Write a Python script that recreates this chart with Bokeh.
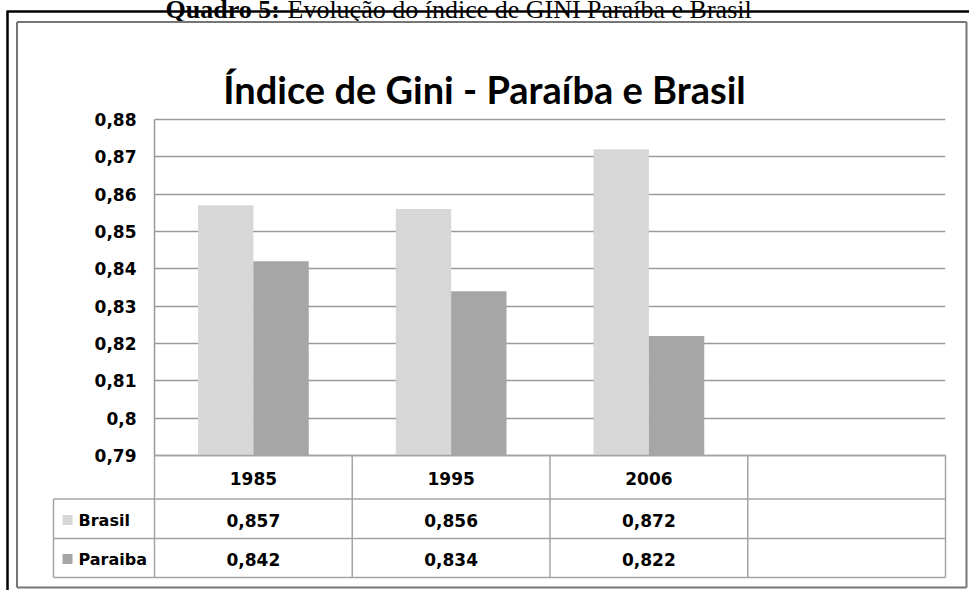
from bokeh.plotting import figure
from bokeh.models import Range1d, FixedTicker, ColumnDataSource
from bokeh.transform import dodge
from bokeh.core.properties import value
from bokeh.embed import file_html
from bokeh.resources import INLINE

# ---------------- data ----------------
years = ["1985", "1995", "2006"]
brasil = [0.857, 0.856, 0.872]
paraiba = [0.842, 0.834, 0.822]
series_names = ["Brasil", "Paraiba"]
series_colors = ["#d7d7d7", "#a6a6a6"]
y_ticks = [0.79, 0.80, 0.81, 0.82, 0.83, 0.84, 0.85, 0.86, 0.87, 0.88]
y_tick_labels = ["0,79", "0,8", "0,81", "0,82", "0,83", "0,84", "0,85", "0,86", "0,87", "0,88"]
title_text = "Índice de Gini - Paraíba e Brasil"
caption_bold = "Quadro 5:"
caption_rest = "Evolução do índice de GINI Paraíba e Brasil"

# ---------------- layout (page pixels) ----------------
W, H = 969, 590
PAGE = 0
PLOT_L, PLOT_R = 154, 945
PLOT_T, PLOT_B = 119, 455
FRAME_T, FRAME_B = 115, 577
ROW_Y = [455, 498.5, 538, 577]
ROW_TXT = [478, 519.5, 558.5]
LEG_L = 53
GRID_C = "#9a9a9a"
TBL_C = "#a4a4a4"

n_cols = len(years) + 1
y_min, y_max = y_ticks[0], y_ticks[-1]


def page_to_val(yp):
    return y_min + (PLOT_B - yp) / (PLOT_B - PLOT_T) * (y_max - y_min)


p = figure(width=W, height=H, output_backend="svg", toolbar_location=None,
           x_range=Range1d(0, n_cols),
           y_range=Range1d(page_to_val(FRAME_B), page_to_val(FRAME_T)),
           x_axis_type=None,
           min_border_left=PLOT_L - PAGE, min_border_right=W - (PLOT_R - PAGE),
           min_border_top=FRAME_T - PAGE, min_border_bottom=H - (FRAME_B - PAGE))
p.extra_x_ranges = {"px": Range1d(PLOT_L, PLOT_R)}
p.extra_y_ranges = {"py": Range1d(FRAME_B, FRAME_T)}
p.outline_line_color = None
p.background_fill_color = "white"
p.border_fill_color = "white"

# y axis
ax = p.yaxis[0]
ax.ticker = FixedTicker(ticks=y_ticks)
ax.major_label_overrides = dict(zip(y_ticks, y_tick_labels))
ax.bounds = (y_min, y_max)
ax.axis_line_color = GRID_C
ax.axis_line_width = 1.5
ax.major_tick_line_color = None
ax.minor_tick_line_color = None
ax.major_tick_out = 0
ax.major_tick_in = 0
ax.major_label_standoff = 18
ax.major_label_text_font = "DejaVu Sans"
ax.major_label_text_font_style = "bold"
ax.major_label_text_font_size = "17px"
ax.major_label_text_color = "black"

g = p.ygrid[0]
g.ticker = FixedTicker(ticks=y_ticks)
g.bounds = (y_min, y_max)
g.grid_line_color = GRID_C
g.grid_line_width = 1.6

# ---------------- bars ----------------
src = ColumnDataSource(dict(
    xc=[i + 0.5 for i in range(len(years))],
    year=years,
    brasil=brasil,
    paraiba=paraiba,
    b_lbl=[f"{v:.3f}".replace(".", ",") for v in brasil],
    p_lbl=[f"{v:.3f}".replace(".", ",") for v in paraiba],
))
BW = 0.28
p.vbar(x=dodge("xc", -BW / 2), top="brasil", bottom=y_min, width=BW,
       fill_color=series_colors[0], line_color=None, source=src)
p.vbar(x=dodge("xc", BW / 2), top="paraiba", bottom=y_min, width=BW,
       fill_color=series_colors[1], line_color=None, source=src)

# ---------------- data table ----------------
p.segment(x0=[PLOT_L, LEG_L, LEG_L, LEG_L], x1=[PLOT_R] * 4, y0=ROW_Y, y1=ROW_Y,
          x_range_name="px", y_range_name="py", line_color=TBL_C, line_width=1.5,
          level="overlay")
p.segment(x0=[LEG_L, PLOT_L], x1=[LEG_L, PLOT_L], y0=[ROW_Y[1], ROW_Y[0]], y1=[ROW_Y[3]] * 2,
          x_range_name="px", y_range_name="py", line_color=TBL_C, line_width=1.5,
          level="overlay")
bounds_x = list(range(1, n_cols + 1))
p.segment(x0=bounds_x, x1=bounds_x, y0=ROW_Y[0], y1=ROW_Y[3], y_range_name="py",
          line_color=TBL_C, line_width=1.5, level="overlay")

txt_kw = dict(y_range_name="py", text_align="center", text_baseline="middle",
              text_font=value("DejaVu Sans"), text_font_style="bold",
              text_font_size="17px", text_color="black", source=src, level="overlay")
p.text(x="xc", y=ROW_TXT[0], text="year", **txt_kw)
p.text(x="xc", y=ROW_TXT[1], text="b_lbl", **txt_kw)
p.text(x="xc", y=ROW_TXT[2], text="p_lbl", **txt_kw)

# legend column: colour keys (thick short strokes) and series names
p.segment(x0=[62, 62], x1=[72, 72], y0=ROW_TXT[1:], y1=ROW_TXT[1:],
          line_color=series_colors, line_width=10, line_cap="butt",
          x_range_name="px", y_range_name="py", level="overlay")
p.text(x=[78, 78], y=ROW_TXT[1:], text=series_names, x_range_name="px", y_range_name="py",
       text_align="left", text_baseline="middle", text_font=value("DejaVu Sans"),
       text_font_style="bold", text_font_size="16px", text_color="black", level="overlay")

# ---------------- title & caption ----------------
p.text(x=[484], y=[88], text=[title_text], x_range_name="px", y_range_name="py",
       text_align="center", text_baseline="alphabetic",
       text_font=value("Lato"), text_font_style="bold",
       text_font_size="38px", text_color="black", level="overlay")
p.text(x=[165], y=[9], text=[caption_bold], x_range_name="px", y_range_name="py",
       text_align="left", text_baseline="alphabetic", text_font=value("Liberation Serif"),
       text_font_style="bold", text_font_size="26px", text_color="black", level="overlay")
p.text(x=[287], y=[9], text=[caption_rest], x_range_name="px", y_range_name="py",
       text_align="left", text_baseline="alphabetic", text_font=value("Liberation Serif"),
       text_font_size="26px", text_color="black", level="overlay")

# ---------------- outer frames ----------------
p.segment(x0=[7, 6], x1=[7, 969], y0=[11, 11], y1=[590, 11],
          x_range_name="px", y_range_name="py", line_color="black", line_width=2.5,
          level="overlay")
p.segment(x0=[16.5, 16.5, 966, 16.5], x1=[16.5, 966, 966, 966],
          y0=[21.5, 21.5, 21.5, 587], y1=[587, 21.5, 587, 587],
          x_range_name="px", y_range_name="py", line_color="#767676", line_width=2,
          level="overlay")

open("out.html", "w").write(file_html(p, INLINE))
